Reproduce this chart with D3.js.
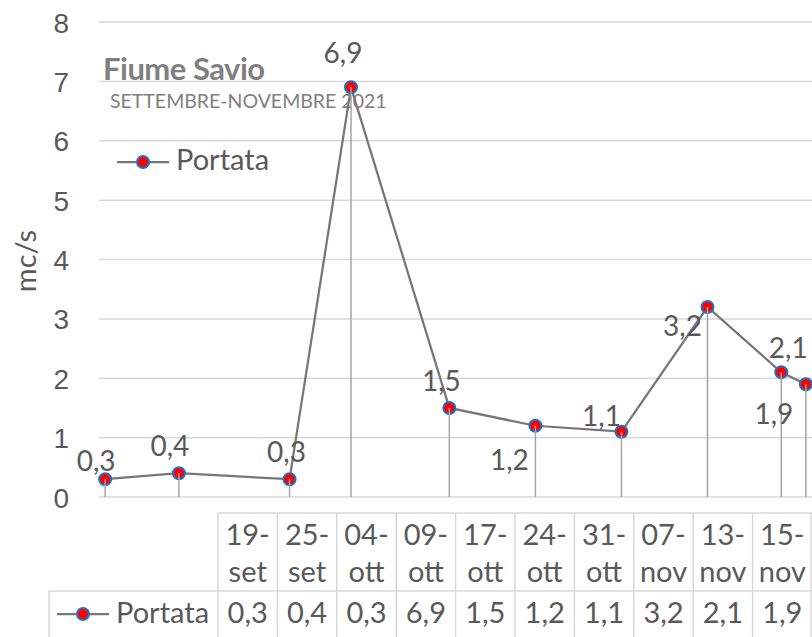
<!DOCTYPE html>
<html>
<head>
<meta charset="utf-8">
<script src="https://cdn.jsdelivr.net/npm/d3@7"></script>
<style>
	body { margin:0; background:#fff; }
	svg { display:block; font-family: Lato, "Open Sans", sans-serif; }
	.grid { stroke:#d9d9d9; stroke-width:1.5; }
	.cell { stroke:#d9d9d9; stroke-width:1.5; fill:none; }
	.txt { fill:#595959; }
	.serie { stroke:#767676; stroke-width:2.25; fill:none; }
	.drop { stroke:#a6a6a6; stroke-width:1.5; }
	.marker { fill:#ff0000; stroke:#1f72c8; stroke-width:2; }
</style>
</head>
<body>
<div id="chart"></div>
<script>
'use strict';

// dati
var dates = ["2021-09-19","2021-09-25","2021-10-04","2021-10-09","2021-10-17","2021-10-24","2021-10-31","2021-11-07","2021-11-13","2021-11-15"];
var categories = ["19-set","25-set","04-ott","09-ott","17-ott","24-ott","31-ott","07-nov","13-nov","15-nov"];
var portata = [0.3, 0.4, 0.3, 6.9, 1.5, 1.2, 1.1, 3.2, 2.1, 1.9];
var yTicks = [0,1,2,3,4,5,6,7,8];
var serieName = "Portata";

// spostamento delle etichette (come Excel le ha messe)
var labelOffsets = [[-9,-18],[-9,-27],[-3,-27],[-8,-34],[-8,-27],[-26,34],[-20,-16],[-25,19],[7,-24],[-32,30]];

var width = 812;
var height = 637;

var fmt = function(v){ return d3.format(".1f")(v).replace(".", ","); };

var svg = d3.select("#chart")
	.append("svg")
	.attr("width", width)
	.attr("height", height);

var parse = d3.utcParse("%Y-%m-%d");
var x = d3.scaleUtc()
	.domain([d3.utcHour.offset(parse(dates[0]), -12), d3.utcHour.offset(parse(dates[dates.length-1]), 12)])
	.range([99, 812]);
var y = d3.scaleLinear().domain([0, 8]).range([497, 22]);

var points = dates.map(function(d, i){
	return {date:parse(d), value:portata[i], label:categories[i], off:labelOffsets[i]};
});

//griglia
svg.selectAll("line.grid")
	.data(yTicks)
	.enter()
	.append("line")
	.attr("class", "grid")
	.attr("x1", x.range()[0])
	.attr("x2", x.range()[1])
	.attr("y1", function(d){ return y(d); })
	.attr("y2", function(d){ return y(d); });

//asse y
var yAxis = svg.append("g")
	.attr("transform", "translate(69,0)")
	.call(d3.axisLeft(y).tickValues(yTicks).tickSize(0).tickPadding(0).tickFormat(d3.format("d")));
yAxis.select(".domain").remove();
yAxis.selectAll("text")
	.attr("class", "txt")
	.attr("fill", null)
	.style("font-size", "28px")
	.attr("dy", "0.36em");

svg.append("text")
	.attr("class", "txt")
	.attr("transform", "translate(26,261) rotate(-90)")
	.attr("text-anchor", "middle")
	.attr("dy", "0.36em")
	.style("font-size", "29px")
	.text("mc/s");

//titolo
svg.append("text")
	.attr("x", 103).attr("y", 80)
	.style("font-size", "31px")
	.style("font-weight", "bold")
	.style("letter-spacing", "-0.5px")
	.attr("fill", "#7f7f7f")
	.text("Fiume Savio");
svg.append("text")
	.attr("x", 110).attr("y", 108)
	.style("font-size", "19.5px")
	.attr("fill", "#7f7f7f")
	.text("SETTEMBRE-NOVEMBRE 2021");

//linea
var line = d3.line()
	.x(function(d){ return x(d.date); })
	.y(function(d){ return y(d.value); });

svg.append("path")
	.datum(points)
	.attr("class", "serie")
	.attr("d", line);

svg.selectAll("circle.marker")
	.data(points)
	.enter()
	.append("circle")
	.attr("class", "marker")
	.attr("cx", function(d){ return x(d.date); })
	.attr("cy", function(d){ return y(d.value); })
	.attr("r", 6);

//linee di riferimento (sopra i marker)
svg.selectAll("line.drop")
	.data(points)
	.enter()
	.append("line")
	.attr("class", "drop")
	.attr("x1", function(d){ return x(d.date); })
	.attr("x2", function(d){ return x(d.date); })
	.attr("y1", function(d){ return y(d.value); })
	.attr("y2", y(0));

//etichette
svg.selectAll("text.lbl")
	.data(points)
	.enter()
	.append("text")
	.attr("class", "txt lbl")
	.attr("text-anchor", "middle")
	.attr("dy", "0.36em")
	.style("font-size", "28px")
	.attr("x", function(d){ return x(d.date) + d.off[0]; })
	.attr("y", function(d){ return y(d.value) + d.off[1]; })
	.text(function(d){ return fmt(d.value); });

//legenda
function legendKey(g, x0, cy){
	g.append("line").attr("class", "serie")
		.attr("x1", x0).attr("x2", x0 + 52).attr("y1", cy).attr("y2", cy);
	g.append("circle").attr("class", "marker")
		.attr("cx", x0 + 26).attr("cy", cy).attr("r", 6);
}
legendKey(svg, 117, 162);
svg.append("text")
	.attr("class", "txt")
	.attr("x", 176).attr("y", 170)
	.style("font-size", "29px")
	.text(serieName);

//tabella dati
var col = d3.scaleBand().domain(categories).range([218, 812]);
var tTop = 513, tMid = 591, tBot = 660;

var tab = svg.append("g");
tab.append("line").attr("class", "cell").attr("x1", 218).attr("x2", 812).attr("y1", tTop).attr("y2", tTop);
tab.append("line").attr("class", "cell").attr("x1", 49).attr("x2", 812).attr("y1", tMid).attr("y2", tMid);
tab.append("line").attr("class", "cell").attr("x1", 49).attr("x2", 49).attr("y1", tMid).attr("y2", tBot);
tab.selectAll("line.vcol")
	.data(categories)
	.enter()
	.append("line")
	.attr("class", "cell vcol")
	.attr("x1", function(d){ return col(d); })
	.attr("x2", function(d){ return col(d); })
	.attr("y1", tTop)
	.attr("y2", tBot);
tab.append("line").attr("class", "cell").attr("x1", 811).attr("x2", 811).attr("y1", tTop).attr("y2", tBot);

var head = tab.selectAll("text.head")
	.data(categories)
	.enter()
	.append("text")
	.attr("class", "txt head")
	.attr("text-anchor", "middle")
	.style("font-size", "29px")
	.attr("x", function(d){ return col(d) + col.bandwidth()/2; });
head.append("tspan")
	.attr("x", function(d){ return col(d) + col.bandwidth()/2; })
	.attr("y", 545)
	.text(function(d){ return d.split("-")[0] + "-"; });
head.append("tspan")
	.attr("x", function(d){ return col(d) + col.bandwidth()/2; })
	.attr("y", 582)
	.text(function(d){ return d.split("-")[1]; });

tab.selectAll("text.val")
	.data(points)
	.enter()
	.append("text")
	.attr("class", "txt val")
	.attr("text-anchor", "middle")
	.style("font-size", "29px")
	.attr("x", function(d){ return col(d.label) + col.bandwidth()/2; })
	.attr("y", 623)
	.text(function(d){ return fmt(d.value); });

legendKey(tab, 57, 614);
tab.append("text")
	.attr("class", "txt")
	.attr("x", 116).attr("y", 623)
	.style("font-size", "29px")
	.text(serieName);
</script>
</body>
</html>
